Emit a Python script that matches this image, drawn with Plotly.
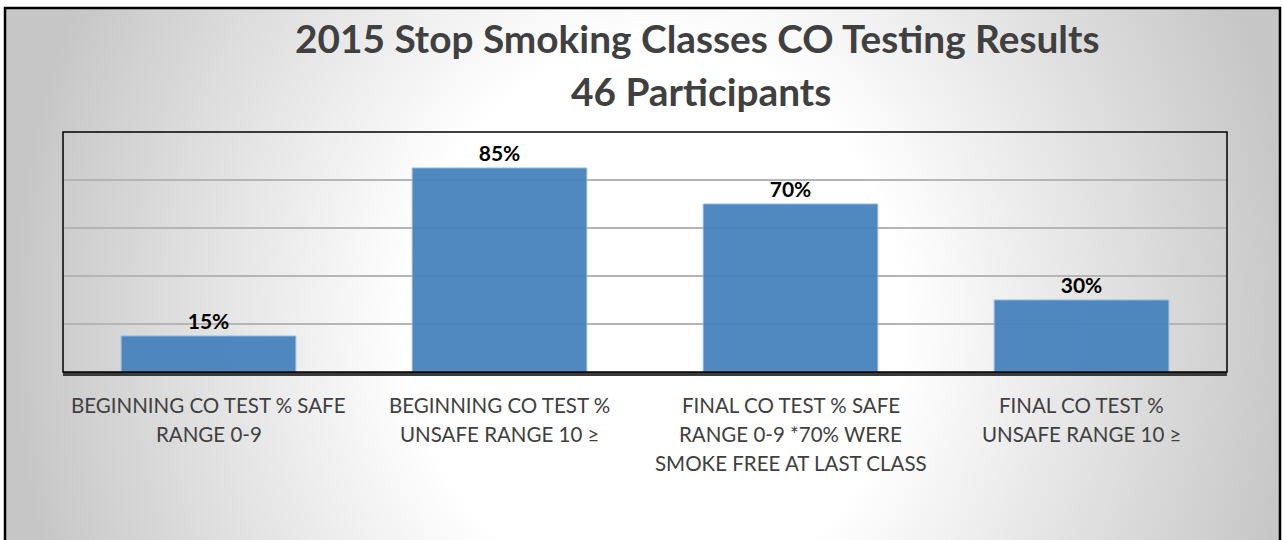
import base64

import plotly.graph_objects as go

# chart data
CATEGORIES = [
    "BEGINNING CO TEST % SAFE RANGE 0-9",
    "BEGINNING CO TEST % UNSAFE RANGE 10 ≥",
    "FINAL CO TEST % SAFE RANGE 0-9 *70% WERE SMOKE FREE AT LAST CLASS",
    "FINAL CO TEST % UNSAFE RANGE 10 ≥",
]
LABEL_LINES = [
    ["BEGINNING CO TEST % SAFE", "RANGE 0-9"],
    ["BEGINNING CO TEST %", "UNSAFE RANGE 10 ≥"],
    ["FINAL CO TEST % SAFE", "RANGE 0-9 *70% WERE", "SMOKE FREE AT LAST CLASS"],
    ["FINAL CO TEST %", "UNSAFE RANGE 10 ≥"],
]
VALUES = [0.15, 0.85, 0.70, 0.30]
TITLE_LINES = ["2015 Stop Smoking Classes CO Testing Results", "46 Participants"]

W, H = 1283, 540
PLOT_L, PLOT_R, PLOT_T, PLOT_B = 63, 1227, 132, 372
FONT = "Lato, 'Open Sans', sans-serif"


def px_x(px: float) -> float:
    return (px - PLOT_L) / (PLOT_R - PLOT_L)


def px_y(py: float) -> float:
    return (PLOT_B - py) / (PLOT_B - PLOT_T)


# radial grey-to-white backdrop, like the office chart fill
svg = (
    f"<svg xmlns='http://www.w3.org/2000/svg' width='{W}' height='{H}'>"
    "<defs><radialGradient id='g' gradientUnits='userSpaceOnUse' cx='655' cy='320' r='650' "
    "gradientTransform='translate(655 320) scale(1 1.15) translate(-655 -320)'>"
    "<stop offset='0.38' stop-color='#ffffff'/><stop offset='1' stop-color='#c6c6c6'/>"
    "</radialGradient></defs>"
    f"<rect width='{W}' height='{H}' fill='url(#g)'/></svg>"
)
bg_src = "data:image/svg+xml;base64," + base64.b64encode(svg.encode()).decode()

fig = go.Figure(
    go.Bar(
        x=CATEGORIES,
        y=VALUES,
        marker=dict(color="#4683bd", opacity=0.95, line=dict(color="#8fb6dc", width=1)),
        text=[f"{v:.0%}" for v in VALUES],
        textposition="outside",
        textfont=dict(family=FONT, size=21, color="#000000", weight="bold"),
        cliponaxis=False,
        hoverinfo="skip",
    )
)

annotations = []
for i, (line, cx) in enumerate(zip(TITLE_LINES, (697, 701))):
    annotations.append(dict(
        text=f"<b>{line}</b>", x=px_x(cx), y=px_y(38 + 53 * i),
        xref="paper", yref="paper", xanchor="center", yanchor="middle",
        showarrow=False, font=dict(family=FONT, size=38.8, color="#404040"),
    ))
for cat, lines in zip(CATEGORIES, LABEL_LINES):
    for j, line in enumerate(lines):
        annotations.append(dict(
            text=line, x=cat, y=px_y(405 + 29 * j),
            xref="x", yref="paper", xanchor="center", yanchor="middle",
            showarrow=False, font=dict(family=FONT, size=20.5, color="#404040"),
        ))

fig.update_layout(
    width=W,
    height=H,
    margin=dict(l=PLOT_L, r=W - PLOT_R, t=PLOT_T, b=H - PLOT_B, autoexpand=False),
    paper_bgcolor="#ffffff",
    plot_bgcolor="rgba(0,0,0,0)",
    showlegend=False,
    bargap=0.4,
    annotations=annotations,
    images=[dict(
        source=bg_src, xref="paper", yref="paper",
        x=px_x(5), y=px_y(8), sizex=(1280 - 5) / (PLOT_R - PLOT_L),
        sizey=(H - 8) / (PLOT_B - PLOT_T), xanchor="left", yanchor="top",
        sizing="stretch", layer="below",
    )],
    shapes=[
        # plot area frame
        dict(type="rect", xref="paper", yref="paper", x0=0, x1=1, y0=0, y1=1,
             line=dict(color="#000000", width=1.5), layer="above"),
        # outer chart border
        dict(type="rect", xref="paper", yref="paper",
             x0=px_x(5), x1=px_x(1280), y0=px_y(8), y1=px_y(H + 5),
             line=dict(color="#000000", width=2.5), layer="above"),
    ],
)
fig.update_xaxes(
    showticklabels=False, ticks="", showgrid=False,
    showline=True, linecolor="#3a3a3a", linewidth=3.5,
)
fig.update_yaxes(
    range=[0, 1], dtick=0.2, showticklabels=False, ticks="",
    showgrid=True, gridcolor="#b5b5b5", gridwidth=1.5, zeroline=False,
)

# drop the default page margin so the figure sits at the window origin
fig.write_html(
    "out.html",
    config={"displayModeBar": False},
    post_script="document.body.style.margin = '0';",
)
